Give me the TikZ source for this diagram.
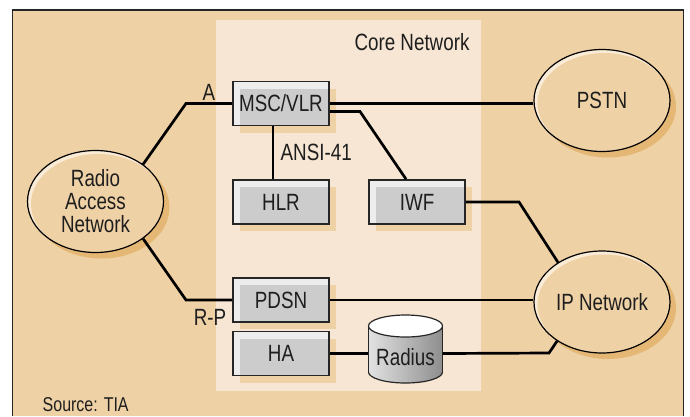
\documentclass[tikz,border=0pt]{standalone}
\usepackage{fontspec}
\setmainfont[FakeStretch=0.8]{Liberation Sans}
\usetikzlibrary{shapes.geometric}

\definecolor{bgtan}{HTML}{EFD1A6}
\definecolor{corepanel}{HTML}{F7E6D3}
\definecolor{boxlight}{HTML}{EDEDED}
\definecolor{boxgray}{HTML}{CCCCCC}
\definecolor{ellshadow}{HTML}{E5B775}
\definecolor{hilite}{HTML}{FAEBD7}
\definecolor{inkdark}{HTML}{1E1E1E}
\definecolor{cylL}{HTML}{E2E2E2}
\definecolor{cylR}{HTML}{8E8E8E}

\tikzset{
  txt/.style={font=\fontsize{23.5}{23}\selectfont, text=inkdark},
  lbl/.style={txt, inner sep=0pt},
  netbox/.style={txt, draw=black!85, line width=1.8pt, fill=boxlight,
    minimum width=96pt, minimum height=44pt, inner sep=0pt,
    preaction={fill=bgtan, draw=none, transform canvas={shift={(7pt,-7pt)}}},
    path picture={\fill[boxgray] ([shift={(7pt,-7pt)}]path picture bounding box.north west)
      rectangle (path picture bounding box.south east);}},
  netell/.style={txt, ellipse, draw=black, line width=1.2pt, fill=hilite,
    minimum width=136pt, minimum height=102pt, inner sep=0pt, align=center,
    preaction={fill=ellshadow, draw=none, transform canvas={shift={(6pt,-6pt)}}},
    path picture={\fill[bgtan] ([shift={(2.5pt,-2.5pt)}]path picture bounding box.center)
      ellipse [x radius=67pt, y radius=50pt];}},
  link/.style={draw=black, line width=2.7pt},
}

\begin{document}
\begin{tikzpicture}[x=1pt, y=-1pt]
\useasboundingbox (0,0) rectangle (690,416);

% outer frame, open at the bottom
\fill[bgtan] (12.5,10) rectangle (683.5,416);
\draw[black!85, line width=1.5pt] (12.5,416) -- (12.5,10) -- (683.5,10) -- (683.5,416);

% core network panel
\fill[corepanel] (216,20) rectangle (481,391);
\node[lbl] (lblCore) at (412,42) {Core Network};

% network clouds
\node[netell] (ran)  at (95.5,201.5) {Radio\\Access\\Network};
\node[netell] (pstn) at (602,100.5) {PSTN};
\node[netell] (ip)   at (602,302) {IP Network};

% core elements
\node[netbox] (msc)  at (281,103.5) {MSC/VLR};
\node[netbox] (hlr)  at (281,202) {HLR};
\node[netbox] (iwf)  at (417,202) {IWF};
\node[netbox] (pdsn) at (281,300) {PDSN};
\node[netbox] (ha)   at (281,353.5) {HA};

% Radius server drawn as a cylinder
\shade[left color=cylL, right color=cylR] (368.5,326) rectangle (442.5,372);
\shade[left color=cylL, right color=cylR] (405.5,372) ellipse [x radius=37pt, y radius=11pt];
\fill[white] (405.5,326) ellipse [x radius=37pt, y radius=11pt];
\draw[black!85, line width=1.2pt] (368.5,326) -- (368.5,372) (442.5,326) -- (442.5,372);
\begin{scope}
  \clip (360,372) rectangle (450,390);
  \draw[black!85, line width=1.2pt] (405.5,372) ellipse [x radius=37pt, y radius=11pt];
\end{scope}
\draw[black!85, line width=1.2pt] (405.5,326) ellipse [x radius=37pt, y radius=11pt];
\node[lbl, minimum width=74pt] (radius) at (405.5,357.5) {Radius};

% bend points
\coordinate (aBend)   at (186,103.5);
\coordinate (rpBend)  at (186,300);
\coordinate (iwfBend) at (360,111.5);
\coordinate (ipBend1) at (519,202);
\coordinate (ipBend2) at (549,353);

% connectors
\draw[link] (ran.38) -- (aBend) -- (msc.west);
\draw[link] (ran.-38) -- (rpBend) -- (pdsn.west);
\draw[link] (msc.east) -- (msc.east -| pstn.west);
\draw[link] ([yshift=-8pt]msc.east) -- (iwfBend) -- ([xshift=-11pt]iwf.north);
\draw[link] ([xshift=-8pt]msc.south) -- ([xshift=-8pt]hlr.north);
\draw[link] (iwf.east) -- (ipBend1) -- (ip.138);
\draw[link] (pdsn.east) -- (pdsn.east -| ip.west);
\draw[link] (ha.east) -- (ha.east -| radius.west);
\draw[link] (radius.east |- ha.east) -- (ipBend2) -- (ip.221);

% interface labels
\node[lbl] (lblA)  at (209,92) {A};
\node[lbl] (lblRP) at (210,317) {R-P};
\node[lbl, anchor=west] (lblAnsi) at (280.5,152) {ANSI-41};
\node[lbl, font=\fontsize{20}{20}\selectfont, anchor=west] (lblSrc) at (42.5,405) {Source: TIA};
\end{tikzpicture}
\end{document}
